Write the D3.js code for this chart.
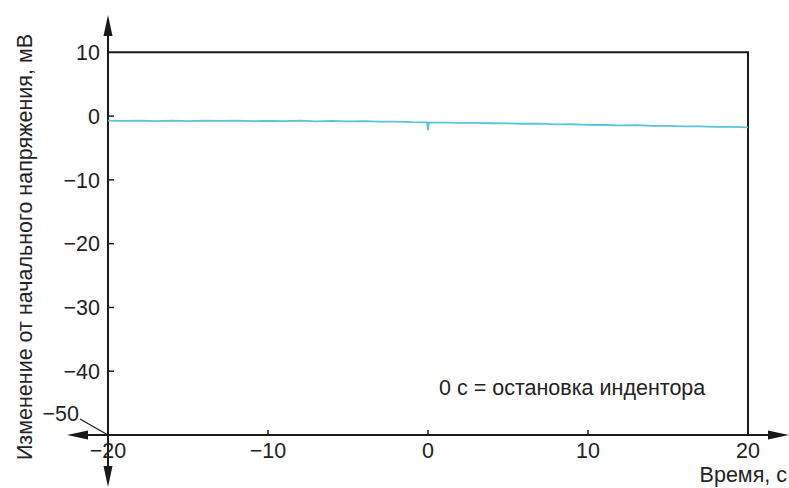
<!DOCTYPE html>
<html><head><meta charset="utf-8">
<script src="https://cdn.jsdelivr.net/npm/d3@7"></script>
<style>body{margin:0;background:#fff}svg{display:block}text{font-family:"Liberation Sans",Arial,sans-serif;fill:#222}</style>
</head><body><svg id="c" width="789" height="488"></svg>
<script>
const xTicks = [-20, -10, 0, 10, 20];
const yTicks = [10, 0, -10, -20, -30, -40];
const times = [-20,-19,-18,-17,-16,-15,-14,-13,-12,-11,-10,-9,-8,-7,-6,-5,-4,-3,-2,-1,-0.05,0,0.05,1,2,3,4,5,6,7,8,9,10,11,12,13,14,15,16,17,18,19,20];
const voltage = [-0.7,-0.75,-0.7,-0.8,-0.72,-0.78,-0.7,-0.76,-0.72,-0.8,-0.74,-0.78,-0.72,-0.82,-0.76,-0.84,-0.8,-0.88,-0.86,-0.95,-0.98,-2.2,-1.0,-1.02,-1.08,-1.05,-1.12,-1.15,-1.2,-1.18,-1.3,-1.28,-1.38,-1.4,-1.45,-1.42,-1.52,-1.55,-1.6,-1.62,-1.7,-1.68,-1.78];

const svg = d3.select("#c");
const x = d3.scaleLinear().domain([-20, 20]).range([108, 748]);
const y = d3.scaleLinear().domain([-50, 10]).range([435, 52.3]);
const ink = "#1a1a1a";
const fs = 21.5;

svg.append("path").attr("d", `M${x(-20)},${y(10)}H${x(20)}V${y(-50)}`)
  .attr("fill","none").attr("stroke",ink).attr("stroke-width",2);

svg.append("line").attr("x1",x(-20)).attr("x2",x(-20)).attr("y1",30).attr("y2",472).attr("stroke",ink).attr("stroke-width",2);
svg.append("line").attr("x1",82).attr("x2",775).attr("y1",y(-50)).attr("y2",y(-50)).attr("stroke",ink).attr("stroke-width",2);

const ah = (pts) => svg.append("path").attr("d","M"+pts.map(p=>p.join(",")).join("L")+"Z").attr("fill",ink);
const ax0 = x(-20), ay0 = y(-50);
ah([[ax0,15],[ax0-4.5,36],[ax0+4.5,36]]);
ah([[ax0,487],[ax0-4.5,466],[ax0+4.5,466]]);
ah([[67,ay0],[88,ay0-4.5],[88,ay0+4.5]]);
ah([[789,ay0],[768,ay0-4.5],[768,ay0+4.5]]);

yTicks.forEach(v => {
  if (v !== 10) svg.append("line").attr("x1",ax0).attr("x2",ax0+6).attr("y1",y(v)).attr("y2",y(v)).attr("stroke",ink).attr("stroke-width",1.5);
  svg.append("text").attr("x",100).attr("y",y(v)).attr("dy","0.36em").attr("text-anchor","end")
    .attr("font-size",fs).text(v < 0 ? "\u2212" + Math.abs(v) : v);
});
svg.append("text").attr("x",79).attr("y",421).attr("text-anchor","end").attr("font-size",fs).text("\u221250");
svg.append("line").attr("x1",80).attr("y1",419).attr("x2",ax0).attr("y2",ay0).attr("stroke",ink).attr("stroke-width",1.2);

xTicks.forEach(v => {
  if (v !== -20 && v !== 20) svg.append("line").attr("x1",x(v)).attr("x2",x(v)).attr("y1",ay0).attr("y2",ay0-5).attr("stroke",ink).attr("stroke-width",1.5);
  svg.append("text").attr("x",x(v)).attr("y",458).attr("text-anchor","middle")
    .attr("font-size",fs).text(v < 0 ? "\u2212" + Math.abs(v) : v);
});

svg.append("path").datum(times.map((t,i)=>[t,voltage[i]]))
  .attr("d", d3.line().x(d=>x(d[0])).y(d=>y(d[1])))
  .attr("fill","none").attr("stroke","#5ec2d6").attr("stroke-width",1.8);

svg.append("text").attr("x",787).attr("y",482).attr("text-anchor","end").attr("font-size",fs).text("Время, с");
svg.append("text").attr("transform","translate(32,247) rotate(-90)").attr("text-anchor","middle").attr("font-size",fs)
  .text("Изменение от начального напряжения, мВ");
svg.append("text").attr("x",439).attr("y",395).attr("font-size",fs).text("0 с = остановка индентора");
</script></body></html>
